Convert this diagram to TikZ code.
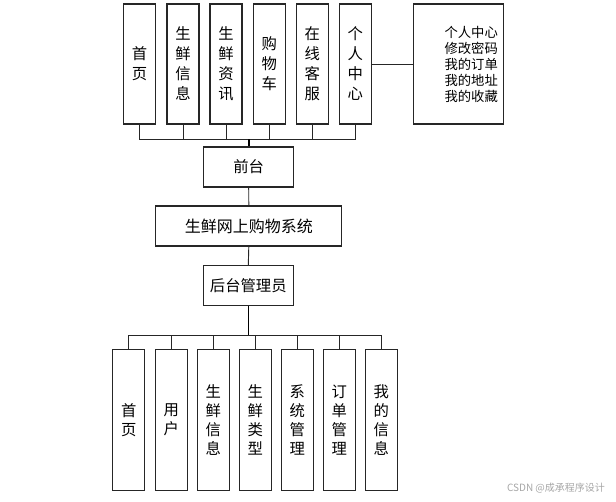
\documentclass[tikz,border=0pt]{standalone}
\usepackage{fontspec}
\newfontfamily\cjk{Noto Sans CJK SC}
\begin{document}
\begin{tikzpicture}[x=0.75pt,y=-0.75pt,
  box/.style={draw=black!85,line width=0.8pt,inner sep=0pt,align=center,font=\cjk\fontsize{11.5}{15}\selectfont},
  vtop/.style={box,minimum width=24pt,minimum height=90pt},
  vbot/.style={box,minimum width=24.2pt,minimum height=105.5pt,font=\cjk\fontsize{11.5}{14.3}\selectfont},
  hbox/.style={box,minimum width=67.5pt,minimum height=30pt},
  conn/.style={draw=black!85,line width=0.7pt},
  trunk/.style={draw=black,line width=1.2pt}]
\useasboundingbox (0,0) rectangle (616,501);
% top row
\node[vtop] (t1) at (139.5,64) {首\\页};
\node[vtop] (t2) at (183,64) {生\\鲜\\信\\息};
\node[vtop] (t3) at (226,64) {生\\鲜\\资\\讯};
\node[vtop] (t4) at (269.2,64) {购\\物\\车};
\node[vtop] (t5) at (312.2,64) {在\\线\\客\\服};
\node[vtop] (t6) at (355.2,64) {个\\人\\中\\心};
\node[box,minimum width=67.8pt,minimum height=90pt,font=\cjk\fontsize{10}{12}\selectfont] (t7) at (458.5,64) {\hspace*{19pt}个人中心\\\hspace*{19pt}修改密码\\\hspace*{19pt}我的订单\\\hspace*{19pt}我的地址\\\hspace*{19pt}我的收藏};
% middle
\node[hbox] (qt) at (248.7,167) {前台};
\node[box,minimum width=139.7pt,minimum height=30pt,font=\cjk\fontsize{12}{14}\selectfont] (sys) at (248.8,226) {生鲜网上购物系统};
\node[hbox] (ad) at (248.3,285.3) {后台管理员};
% bottom row
\node[vbot] (b1) at (128.8,419.7) {首\\页};
\node[vbot] (b2) at (171.2,419.7) {用\\户};
\node[vbot] (b3) at (213.2,419.7) {生\\鲜\\信\\息};
\node[vbot] (b4) at (255.2,419.7) {生\\鲜\\类\\型};
\node[vbot] (b5) at (297.2,419.7) {系\\统\\管\\理};
\node[vbot] (b6) at (339.2,419.7) {订\\单\\管\\理};
\node[vbot] (b7) at (381.2,419.7) {我\\的\\信\\息};
% connectors
\coordinate (busT) at (248.7,139);
\coordinate (busB) at (248.3,335);
\foreach \n in {t1,t2,t3,t4,t5,t6} \draw[conn] (\n.south) |- (busT);
\draw[trunk] (busT) -- (qt.north);
\draw[conn] (t6.east) -- (t7.west);
\draw[conn] (qt.south) -- (sys.north);
\draw[conn] (sys.south) -- (ad.north);
\draw[trunk] (ad.south) -- (busB);
\foreach \n in {b1,b2,b3,b4,b5,b6,b7} \draw[conn] (busB) -| (\n.north);
% watermark
\node[text=black!35,font=\cjk\fontsize{7.5}{9}\selectfont,inner sep=0pt] (wm) at (556,488.5) {CSDN @成承程序设计};
\end{tikzpicture}
\end{document}
